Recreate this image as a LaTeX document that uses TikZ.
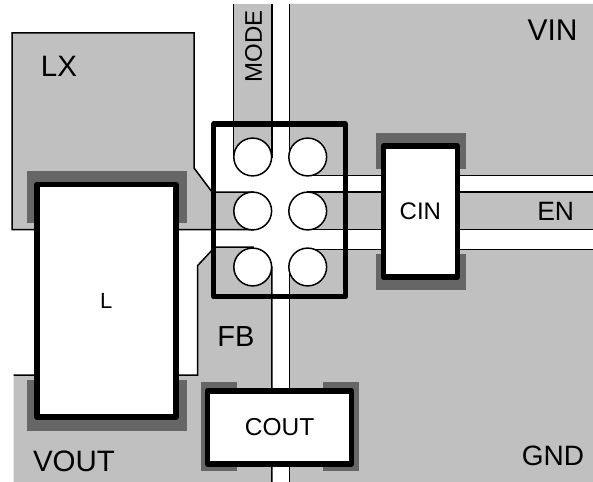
\documentclass[tikz,border=0pt]{standalone}
\usepackage{fontspec}
\setmainfont{Liberation Sans}
\definecolor{padgray}{HTML}{C0C0C0}
\definecolor{landgray}{HTML}{666666}
\tikzset{
    padarea/.style={draw=black,fill=padgray,line width=1.5pt,line join=miter},
    land/.style={fill=landgray},
    part/.style={draw=black,fill=white,line width=5.5pt,line join=round,inner sep=0pt,outer sep=0pt},
    pinhole/.style={circle,draw=black,fill=white,line width=1.5pt,minimum size=37.8pt,inner sep=0pt,outer sep=0pt},
    netname/.style={inner sep=0pt,outer sep=0pt,font=\fontsize{#1}{#1}\selectfont},
}
\begin{document}
\begin{tikzpicture}[x=1pt,y=-1pt]
    \useasboundingbox (0,0) rectangle (593,481);

    \draw[padarea] (12,33) -- (194,33) -- (194,168) -- (212,192) -- (253,192) -- (253,229.7) -- (12,229.7) -- cycle;
    \draw[padarea] (233.4,4) -- (233.4,157) -- (271.8,157) -- (271.8,4);
    \draw[padarea] (289.4,4) -- (289.4,157) -- (308,157) -- (308,175.7) -- (597,175.7) -- (597,4);
    \draw[padarea] (597,192) -- (308,192) -- (308,229.7) -- (597,229.7);
    \draw[padarea] (597,249.7) -- (308,249.7) -- (308,267) -- (289.4,267) -- (289.4,485) -- (597,485);
    \draw[padarea] (13.5,375) -- (197.5,375) -- (197.5,265.7) -- (215,247) -- (253,247) -- (253,267) -- (271.8,267) -- (271.8,485) -- (13.5,485);

    \fill[land] (27.3,171) rectangle (187,222.6);
    \fill[land] (27.3,380) rectangle (187,431.3);
    \fill[land] (376.3,133.3) rectangle (466,169);
    \fill[land] (376.3,254.3) rectangle (466,290.3);
    \fill[land] (201,382) rectangle (237,471.3);
    \fill[land] (322.7,382) rectangle (358.7,471.3);

    \node[pinhole] (P1) at (252.7,157) {};
    \node[pinhole] (P2) at (307.7,157) {};
    \node[pinhole] (P3) at (252.7,211) {};
    \node[pinhole] (P4) at (307.7,211) {};
    \node[pinhole] (P5) at (252.7,267) {};
    \node[pinhole] (P6) at (307.7,267) {};

    \draw[line width=5.2pt,line join=round] (213.8,124) rectangle (345.5,296.8);

    \node[part,minimum width=139pt,minimum height=232.7pt,font=\fontsize{22}{22}\selectfont] (L) at (106.3,300.8) {L};
    \node[part,minimum width=73.8pt,minimum height=131pt,font=\fontsize{24}{24}\selectfont] (CIN) at (420.4,211.5) {CIN};
    \node[part,minimum width=143.8pt,minimum height=73.3pt,font=\fontsize{24.5}{24.5}\selectfont] (COUT) at (279.6,427.4) {COUT};

    \node[netname=29.5] (LX) at (59,66.8) {LX};
    \node[netname=30] (VIN) at (552.5,30) {VIN};
    \node[netname=26.5] (EN) at (555.7,211.7) {EN};
    \node[netname=29.5] (VOUT) at (74,461.7) {VOUT};
    \node[netname=28] (GND) at (553,456) {GND};
    \node[netname=29] (FB) at (236,337) {FB};
    \node[netname=24,rotate=90] (MODE) at (253.7,46.2) {MODE};
\end{tikzpicture}
\end{document}
